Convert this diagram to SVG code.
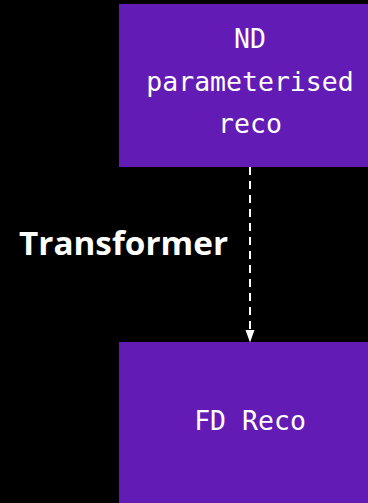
<svg xmlns="http://www.w3.org/2000/svg" width="368" height="503" viewBox="0 0 368 503">
<style>
.box{fill:#631bb5}
.lbl{fill:#ffffff;font-family:"DejaVu Sans Mono","Liberation Mono",monospace;font-size:26.5px;text-anchor:middle}
.edge{fill:#ffffff;font-family:"Open Sans",Inter,sans-serif;font-weight:bold;font-size:32px}
</style>
<rect width="368" height="503" fill="#000000"/>
<g id="node-nd">
<rect class="box" x="119" y="4" width="262" height="163"/>
<text class="lbl" x="250" y="48">ND</text>
<text class="lbl" x="250" y="91">parameterised</text>
<text class="lbl" x="250" y="133">reco</text>
</g>
<g id="node-fd">
<rect class="box" x="119" y="342" width="262" height="170"/>
<text class="lbl" x="250" y="430">FD Reco</text>
</g>
<g id="connectors">
<line x1="250" y1="167" x2="250" y2="330" stroke="#ffffff" stroke-width="2" stroke-dasharray="8,6"/>
<path d="M245.5,330 L254.5,330 L250,342.5 Z" fill="#ffffff"/>
<text class="edge" x="19" y="255" textLength="209" lengthAdjust="spacingAndGlyphs">Transformer</text>
</g>
</svg>
